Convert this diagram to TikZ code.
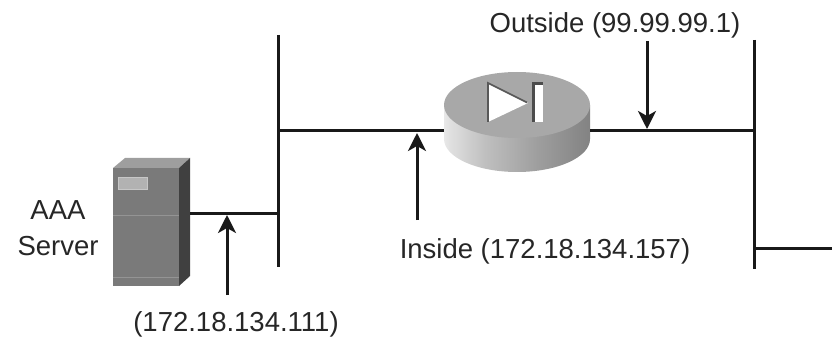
\documentclass[tikz,border=0pt]{standalone}
\usepackage{fontspec}
\setmainfont{Liberation Sans}
\usetikzlibrary{arrows.meta}
% banded grey shading for the side wall of the router cylinder
\pgfdeclarehorizontalshading{routerside}{100bp}{%
  color(0bp)=(black!62); color(8bp)=(black!52); color(16bp)=(black!38);
  color(24bp)=(black!15); color(30bp)=(white); color(42bp)=(white);
  color(50bp)=(black!12); color(62bp)=(black!25); color(80bp)=(black!38);
  color(100bp)=(black!50); color(122bp)=(black!62); color(146bp)=(black!78)}
\begin{document}
\begin{tikzpicture}[x=1pt,y=-1pt,
  wire/.style={line width=3pt, black!90},
  pointer/.style={line width=3pt, black!90, -{Stealth[length=18pt,width=18pt,inset=5pt]}},
  lbl/.style={font=\fontsize{27.5}{32}\selectfont, text=black!85, inner sep=0pt, anchor=base}]
\useasboundingbox (0,0) rectangle (832,339);

% ---- AAA server tower ----
\fill[black!38] (113,168) -- (125,158) -- (190,158) -- (179,168) -- cycle;
\fill[black!75] (179,168) -- (190,158) -- (190,276) -- (179,286) -- cycle;
\fill[black!52] (113,168) rectangle (179,286);
\draw[black!42, line width=1pt] (113,215) -- (179,215);
\draw[black!42, line width=1pt] (113,277) -- (179,277);
\fill[black!30] (118,177) rectangle (147,189);
\draw[black!22, line width=0.8pt] (118,177) rectangle (147,189);
\node[lbl] (aaa) at (58,219) {AAA};
\node[lbl] (srvname) at (58,255) {Server};

% ---- router cylinder ----
\shade[shading=routerside] (444,105) -- (444,139)
  arc[start angle=180, end angle=0, x radius=73, y radius=33] -- (590,105) -- cycle;
\fill[black!34] (517,105) ellipse[x radius=73, y radius=33];
% direction symbol on the lid
\fill[white] (488,83) -- (488,122) -- (528,103) -- cycle;
\draw[black!65, line width=1.6pt] (488,122) -- (488,83) -- (527,102.5);
\fill[white] (532,82) rectangle (543,122);
\fill[black!70] (532,82) rectangle (535,122);
\fill[black!70] (532,82) rectangle (543,85);

% ---- named attachment points ----
\coordinate (lbTop) at (278,35);
\coordinate (lbBot) at (278,267);
\coordinate (rbTop) at (754,40);
\coordinate (rbBot) at (754,269);
\coordinate (srvPort) at (190,213);
\coordinate (lbSrv) at (278,213);
\coordinate (lbRtr) at (278,131);
\coordinate (rtrL) at (444,131);
\coordinate (rtrR) at (590,131);
\coordinate (rbRtr) at (754,131);
\coordinate (rbStub) at (754,248);
\coordinate (stubEnd) at (832,248);

% ---- segments ----
\draw[wire] (lbTop) -- (lbBot);
\draw[wire] (rbTop) -- (rbBot);
\draw[wire] (srvPort) -- (lbSrv);
\draw[wire] (lbRtr) -- (rtrL);
\draw[wire] (rtrR) -- (rbRtr);
\draw[wire] (rbStub) -- (stubEnd);

% ---- interface labels and pointers ----
\node[lbl] (ipSrv) at (236,331) {(172.18.134.111)};
\node[lbl] (ipIn) at (545,258) {Inside (172.18.134.157)};
\node[lbl] (ipOut) at (615,33) {Outside (99.99.99.1)};

\coordinate (pSrvA) at (227,295);
\coordinate (pSrvB) at (227,215);
\coordinate (pInA) at (417,220);
\coordinate (pInB) at (417,133);
\coordinate (pOutA) at (647,41);
\coordinate (pOutB) at (647,129);
\draw[pointer] (pSrvA) -- (pSrvB);
\draw[pointer] (pInA) -- (pInB);
\draw[pointer] (pOutA) -- (pOutB);
\end{tikzpicture}
\end{document}
